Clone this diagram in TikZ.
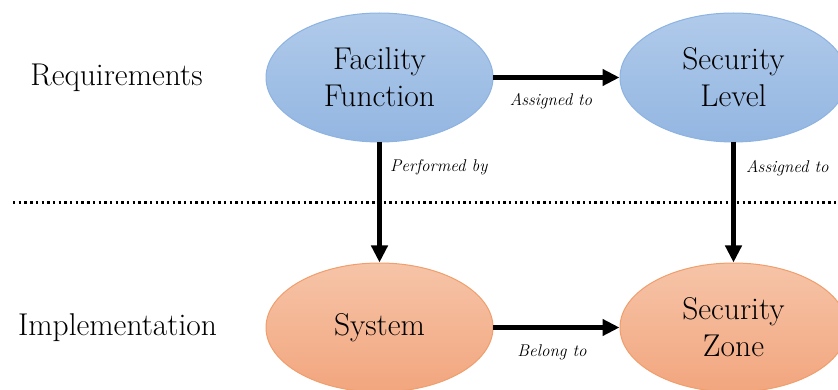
\documentclass[tikz,border=0pt]{standalone}
\usetikzlibrary{arrows.meta,shapes.geometric}
\definecolor{blueTop}{HTML}{B0CAEA}
\definecolor{blueBot}{HTML}{93B6E1}
\definecolor{blueLine}{HTML}{8DB3E2}
\definecolor{orTop}{HTML}{F6C4A8}
\definecolor{orBot}{HTML}{F2A67E}
\definecolor{orLine}{HTML}{F09E6C}
\tikzset{
  bigtext/.style={font=\fontsize{31.5}{37}\selectfont},
  blueell/.style={ellipse, draw=blueLine, line width=1pt, top color=blueTop, bottom color=blueBot,
    minimum width=227pt, minimum height=129pt, inner sep=0pt, align=center, bigtext},
  orell/.style={ellipse, draw=orLine, line width=1pt, top color=orTop, bottom color=orBot,
    minimum width=227pt, minimum height=129pt, inner sep=0pt, align=center, bigtext},
  arr/.style={line width=4.5pt, -{Triangle[length=17pt,width=16pt]}, shorten <=-0.5pt},
  lbl/.style={font=\itshape\fontsize{17}{20}\selectfont, inner sep=0pt},
  rowlbl/.style={bigtext, inner sep=0pt},
  dotline/.style={line width=2.4pt, dash pattern=on 2.4pt off 3.3pt}
}
\begin{document}
\begin{tikzpicture}[x=1pt,y=-1pt]
\useasboundingbox (0,0) rectangle (838,390);
\clip (0,0) rectangle (838,390);
\fill[white] (0,0) rectangle (838,390);
\node[rowlbl] (req) at (116.5,78) {Requirements};
\node[rowlbl] (imp) at (117.5,328) {Implementation};
\coordinate (dl) at (13,202.5);
\coordinate (dr) at (840,202.5);
\draw[dotline] (dl) -- (dr);
\node[blueell] (ff) at (379.5,77.5) {Facility\\Function};
\node[blueell] (sl) at (733.5,77.5) {Security\\Level};
\node[orell] (sys) at (379.5,327.5) {System};
\node[orell] (sz) at (733.5,327.5) {Security\\Zone};
\draw[arr] (ff) -- (sl);
\draw[arr] (ff) -- (sys);
\draw[arr] (sl) -- (sz);
\draw[arr] (sys) -- (sz);
\node[lbl] (a1) at (551,101) {Assigned to};
\node[lbl, anchor=west] (pb) at (390,167) {Performed by};
\node[lbl, anchor=west] (a2) at (746,168) {Assigned to};
\node[lbl] (bt) at (552,352) {Belong to};
\end{tikzpicture}
\end{document}
